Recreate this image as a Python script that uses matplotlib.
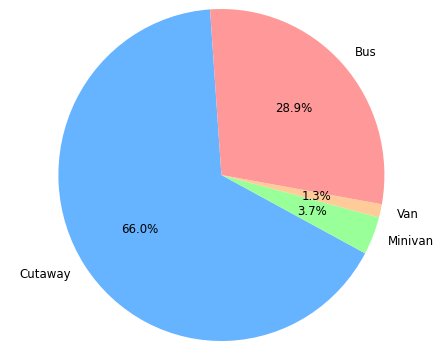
import matplotlib
matplotlib.use("Agg")
import matplotlib.pyplot as plt

# vehicle type share (percent)
labels = ["Cutaway", "Minivan", "Van", "Bus"]
shares = [66.0, 3.7, 1.3, 28.9]
colors = ["#66b3ff", "#99ff99", "#ffcc99", "#ff9999"]

total = sum(shares)

fig = plt.figure(figsize=(4.4, 3.46), dpi=100)
ax = fig.add_axes([0, 0, 1, 1])

ax.pie(shares, labels=labels, colors=colors,
       autopct=lambda p: f"{p * total / 100:.1f}%",
       startangle=94, textprops={"fontsize": 8.5})

# reference pie is very slightly taller than wide
cx, cy = 221.4, 175.0   # centre, px from top-left
rx, ry = 163.0, 166.0   # radius in px
ax.set_xlim(-cx / rx, (440 - cx) / rx)
ax.set_ylim(-(346 - cy) / ry, cy / ry)
ax.set_aspect("auto")
ax.axis("off")

fig.savefig("out.png", dpi=100)
